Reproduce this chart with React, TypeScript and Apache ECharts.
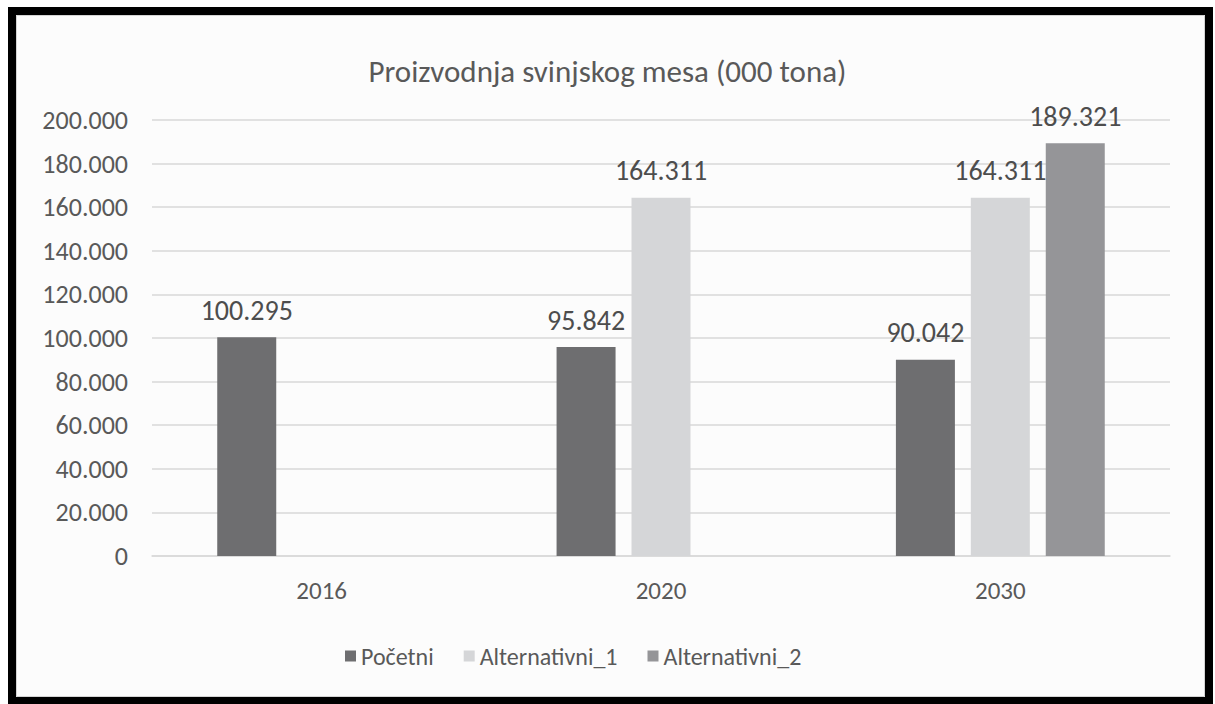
import React, { useEffect, useRef } from "react";
import * as echarts from "echarts";

const categories = ["2016", "2020", "2030"];
const seriesNames = ["Početni", "Alternativni_1", "Alternativni_2"];
const pocetni = [100295, 95842, 90042];
const alternativni1 = [null, 164311, 164311];
const alternativni2 = [null, null, 189321];
const yTicks = { min: 0, max: 200000, interval: 20000 };
const colors = ["#6e6e70", "#d5d6d8", "#959598"];

const FONT = "Carlito, Lato, sans-serif";
const fmt = (v: number) => String(Math.round(v)).replace(/\B(?=(\d{3})+(?!\d))/g, ".");

export default function App() {
  const ref = useRef<HTMLDivElement>(null);
  useEffect(() => {
    document.body.style.margin = "0";
    const chart = echarts.init(ref.current!, null, { renderer: "svg" });
    const label = {
      show: true,
      position: "top" as const,
      distance: 13,
      fontFamily: FONT,
      fontSize: 28,
      color: "#4d4d4d",
      formatter: (p: any) => (p.value == null ? "" : fmt(p.value)),
    };
    const data = [pocetni, alternativni1, alternativni2];
    chart.setOption({
      animation: false,
      backgroundColor: "#ffffff",
      graphic: [
        {
          type: "rect",
          z: -10,
          shape: { x: 12, y: 11, width: 1197, height: 690 },
          style: { fill: "#fcfcfc", stroke: "#000000", lineWidth: 8 },
          silent: true,
        },
        {
          type: "rect",
          z: -9,
          shape: { x: 16.5, y: 15.5, width: 1188, height: 681 },
          style: { fill: "none", stroke: "#d4d4d4", lineWidth: 1 },
          silent: true,
        },
      ],
      title: {
        text: "Proizvodnja svinjskog mesa (000 tona)",
        left: "center",
        top: 50,
        textStyle: { fontFamily: FONT, fontSize: 31, fontWeight: "normal", color: "#595959" },
      },
      legend: {
        bottom: 31,
        left: 340,
        itemWidth: 11,
        itemHeight: 11,
        itemGap: 30,
        icon: "rect",
        textStyle: { fontFamily: FONT, fontSize: 24, color: "#595959" },
        data: seriesNames,
      },
      grid: { left: 152, right: 45, top: 120, bottom: 148 },
      xAxis: {
        type: "category",
        data: categories,
        axisTick: { show: false },
        axisLine: { lineStyle: { color: "#d9d9d9", width: 1.5 } },
        axisLabel: { fontFamily: FONT, fontSize: 25, color: "#595959", margin: 22 },
      },
      yAxis: {
        type: "value",
        min: yTicks.min,
        max: yTicks.max,
        interval: yTicks.interval,
        axisLine: { show: false },
        axisTick: { show: false },
        splitLine: { lineStyle: { color: "#d9d9d9", width: 1.5 } },
        axisLabel: {
          fontFamily: FONT,
          fontSize: 26,
          color: "#595959",
          margin: 24,
          formatter: (v: number) => fmt(v),
        },
      },
      series: seriesNames.map((name, i) => ({
        name,
        type: "bar",
        data: data[i],
        barWidth: 59,
        barGap: "27%",
        itemStyle: { color: colors[i] },
        label,
      })),
    });
    return () => chart.dispose();
  }, []);
  return <div ref={ref} style={{ width: 1215, height: 704 }} />;
}
